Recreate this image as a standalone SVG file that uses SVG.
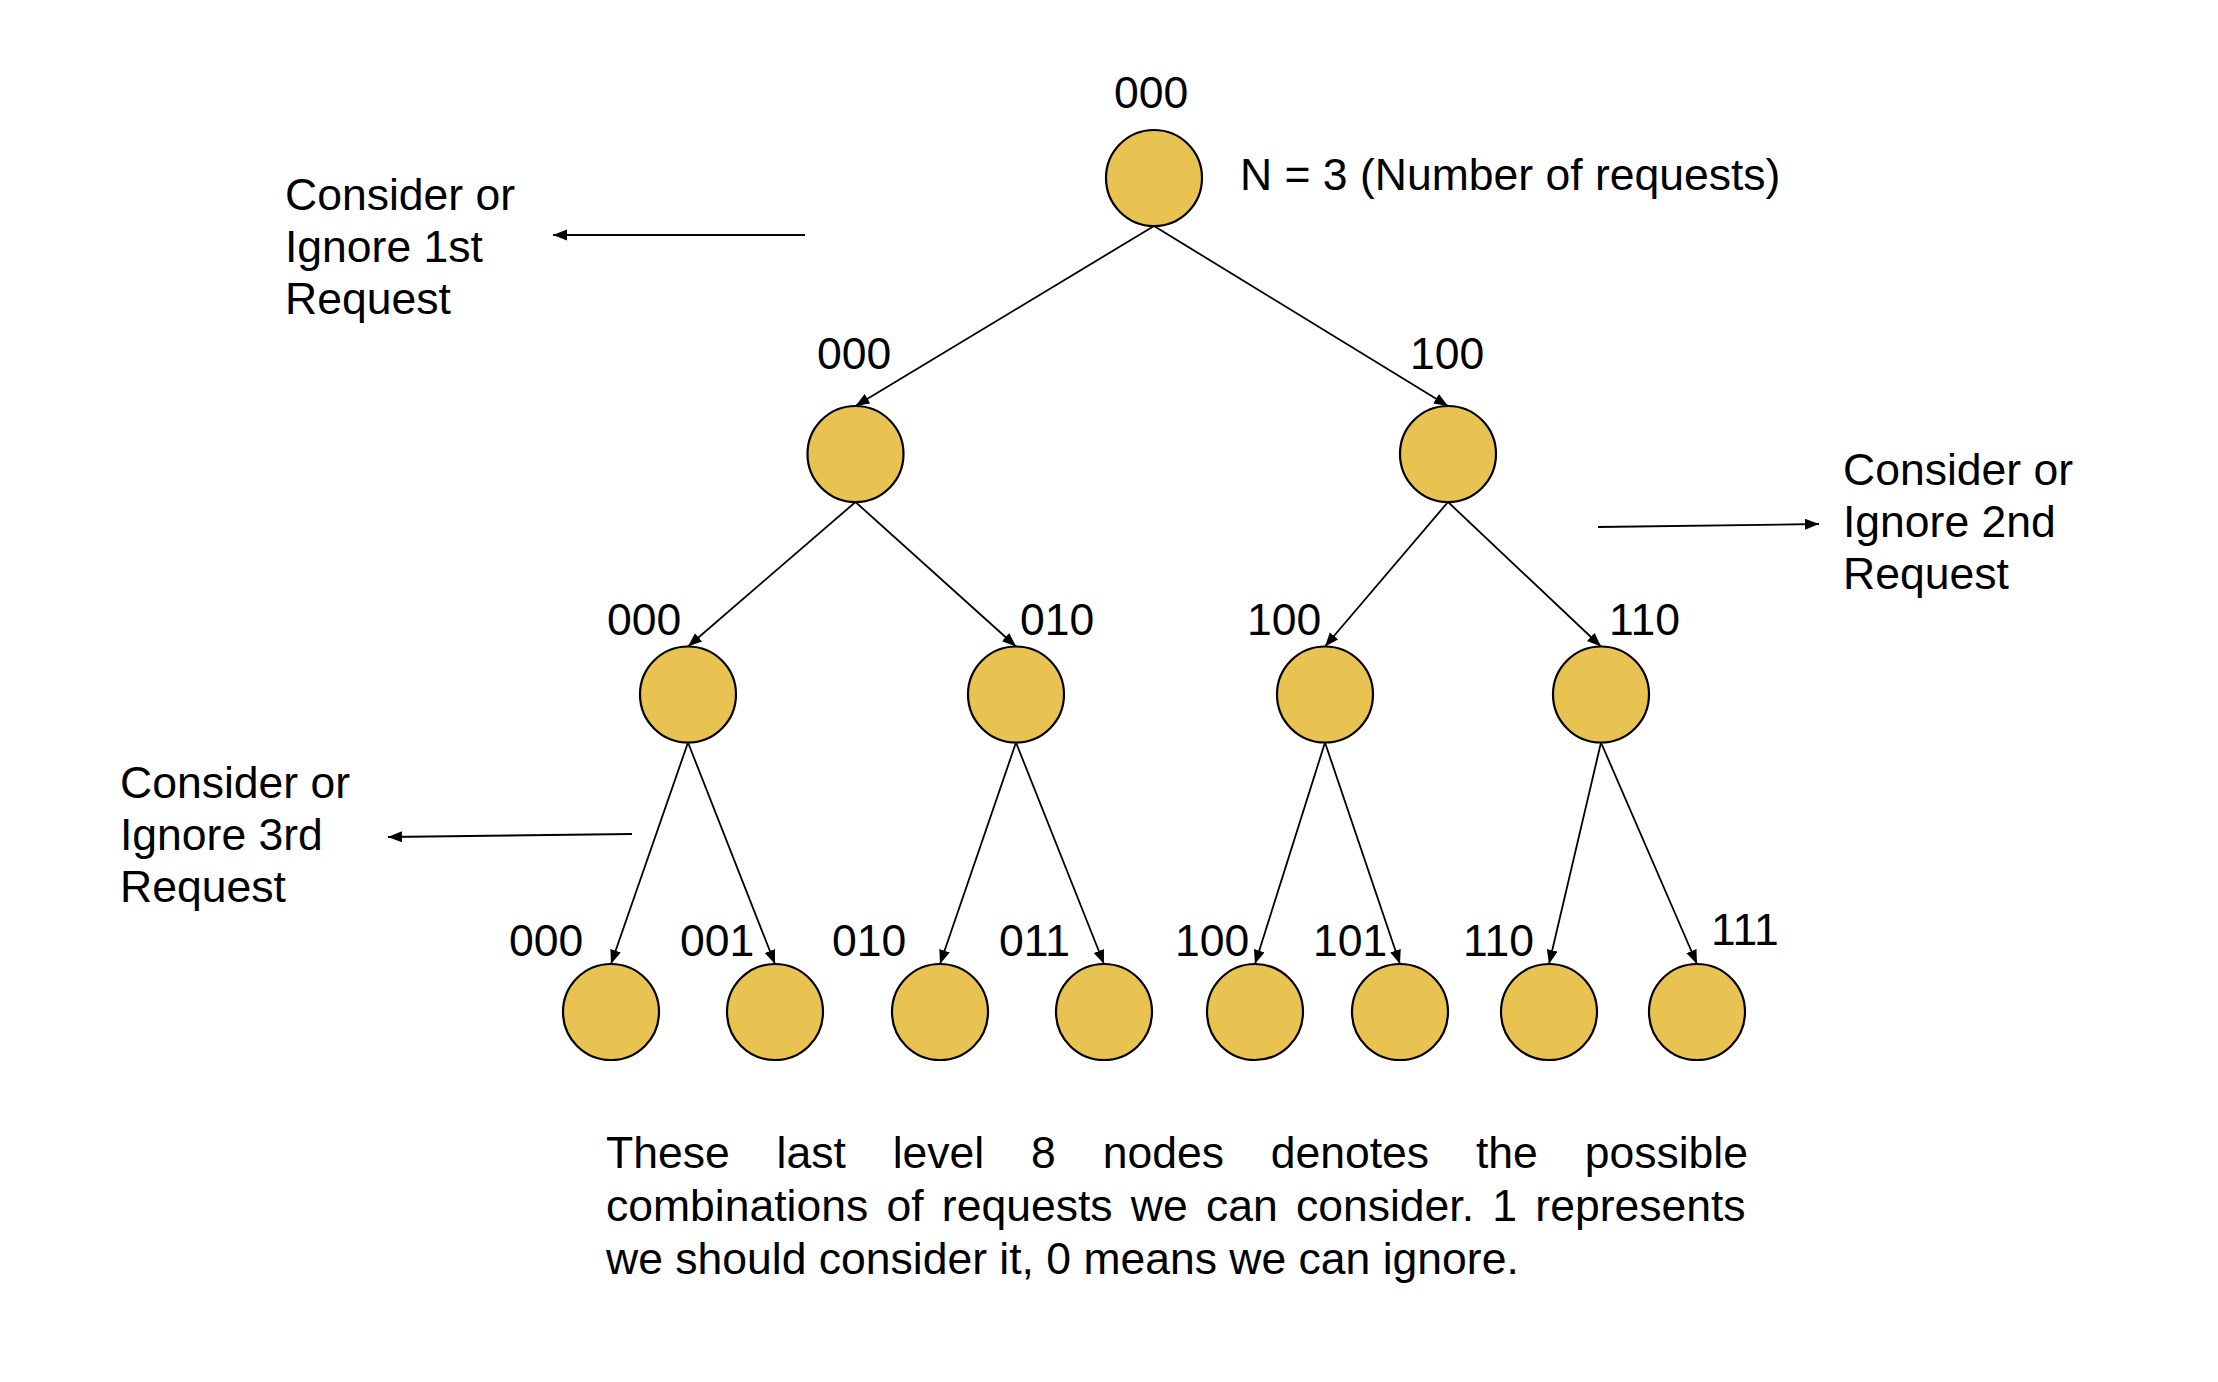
<svg xmlns="http://www.w3.org/2000/svg" width="2218" height="1382" viewBox="0 0 2218 1382">
<style>
text{font-family:"Liberation Sans",Arial,sans-serif;font-size:44.5px;fill:#000}
.node{fill:#E8C351;stroke:#000;stroke-width:2.2}
.edge{stroke:#000;stroke-width:1.8;fill:none;marker-end:url(#arr)}
</style>
<defs>
<marker id="arr" markerUnits="userSpaceOnUse" markerWidth="15" markerHeight="12" refX="14" refY="5.5" orient="auto">
<path d="M0,0 L14,5.5 L0,11 z" fill="#000"/>
</marker>
</defs>
<rect width="2218" height="1382" fill="#fff"/>
<g id="connectors">
<line class="edge" x1="1154" y1="226" x2="855.5" y2="406"/>
<line class="edge" x1="1154" y1="226" x2="1448" y2="406"/>
<line class="edge" x1="855.5" y1="502" x2="688" y2="646.5"/>
<line class="edge" x1="855.5" y1="502" x2="1016" y2="646.5"/>
<line class="edge" x1="1448" y1="502" x2="1325" y2="646.5"/>
<line class="edge" x1="1448" y1="502" x2="1601" y2="646.5"/>
<line class="edge" x1="688" y1="742.5" x2="611" y2="964"/>
<line class="edge" x1="688" y1="742.5" x2="775" y2="964"/>
<line class="edge" x1="1016" y1="742.5" x2="940" y2="964"/>
<line class="edge" x1="1016" y1="742.5" x2="1104" y2="964"/>
<line class="edge" x1="1325" y1="742.5" x2="1255" y2="964"/>
<line class="edge" x1="1325" y1="742.5" x2="1400" y2="964"/>
<line class="edge" x1="1601" y1="742.5" x2="1549" y2="964"/>
<line class="edge" x1="1601" y1="742.5" x2="1697" y2="964"/>
<line class="edge" x1="805" y1="235" x2="553" y2="235"/>
<line class="edge" x1="1598" y1="527" x2="1819" y2="524"/>
<line class="edge" x1="632" y1="834" x2="388" y2="837"/>
</g>
<g id="n-root"><circle class="node" cx="1154" cy="178" r="48"/><text x="1114" y="108">000</text></g>
<g id="n-0"><circle class="node" cx="855.5" cy="454" r="48"/><text x="817" y="369">000</text></g>
<g id="n-1"><circle class="node" cx="1448" cy="454" r="48"/><text x="1410" y="369">100</text></g>
<g id="n-00"><circle class="node" cx="688" cy="694.5" r="48"/><text x="607" y="635">000</text></g>
<g id="n-01"><circle class="node" cx="1016" cy="694.5" r="48"/><text x="1020" y="635">010</text></g>
<g id="n-10"><circle class="node" cx="1325" cy="694.5" r="48"/><text x="1247" y="635">100</text></g>
<g id="n-11"><circle class="node" cx="1601" cy="694.5" r="48"/><text x="1609" y="635">110</text></g>
<g id="n-000"><circle class="node" cx="611" cy="1012" r="48"/><text x="509" y="956">000</text></g>
<g id="n-001"><circle class="node" cx="775" cy="1012" r="48"/><text x="680" y="956">001</text></g>
<g id="n-010"><circle class="node" cx="940" cy="1012" r="48"/><text x="832" y="956">010</text></g>
<g id="n-011"><circle class="node" cx="1104" cy="1012" r="48"/><text x="999" y="956">011</text></g>
<g id="n-100"><circle class="node" cx="1255" cy="1012" r="48"/><text x="1175" y="956">100</text></g>
<g id="n-101"><circle class="node" cx="1400" cy="1012" r="48"/><text x="1313" y="956">101</text></g>
<g id="n-110"><circle class="node" cx="1549" cy="1012" r="48"/><text x="1463" y="956">110</text></g>
<g id="n-111"><circle class="node" cx="1697" cy="1012" r="48"/><text x="1711" y="945">111</text></g>
<g id="label-n"><text x="1240" y="190">N = 3 (Number of requests)</text></g>
<g id="label-1st"><text x="285" y="210">Consider or</text><text x="285" y="262">Ignore 1st</text><text x="285" y="314">Request</text></g>
<g id="label-2nd"><text x="1843" y="485">Consider or</text><text x="1843" y="537">Ignore 2nd</text><text x="1843" y="589">Request</text></g>
<g id="label-3rd"><text x="120" y="798">Consider or</text><text x="120" y="850">Ignore 3rd</text><text x="120" y="902">Request</text></g>
<g id="note">
<text x="606" y="1168" word-spacing="34.5">These last level 8 nodes denotes the possible</text>
<text x="606" y="1221" word-spacing="5.9">combinations of requests we can consider. 1 represents</text>
<text x="606" y="1274">we should consider it, 0 means we can ignore.</text>
</g>
</svg>
